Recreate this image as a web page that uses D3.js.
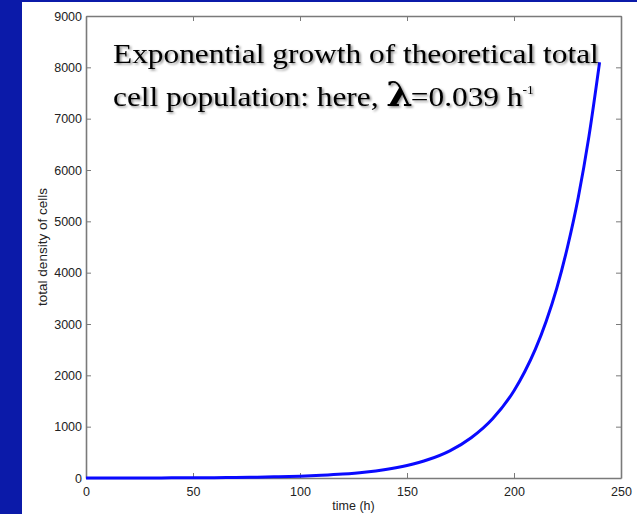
<!DOCTYPE html>
<html>
<head>
<meta charset="utf-8">
<script src="https://cdn.jsdelivr.net/npm/d3@7"></script>
<style>
  body { margin: 0; background: #0b1aa9; }
  svg { display: block; }
</style>
</head>
<body>
<div id="chart"></div>
<script>
// values
var times = [0, 10, 20, 30, 40, 50, 60, 70, 80, 90, 100, 110, 120, 130, 140, 150, 160, 170, 180, 190, 200, 205, 210, 215, 220, 225, 230, 235, 240];
var density = [1, 1, 2, 2, 3, 5, 7, 11, 16, 24, 35, 52, 76, 112, 166, 245, 360, 530, 785, 1155, 1700, 2070, 2510, 3050, 3700, 4500, 5460, 6650, 8100];
var xTicks = [0, 50, 100, 150, 200, 250];
var yTicks = [0, 1000, 2000, 3000, 4000, 5000, 6000, 7000, 8000, 9000];

var W = 637, H = 514;
var margin = {top: 16, right: 16, bottom: 36, left: 86};
var width = W - margin.left - margin.right,
    height = H - margin.top - margin.bottom;

var svg = d3.select("#chart")
  .append("svg")
  .attr("width", W)
  .attr("height", H);

// slide background and white panel
svg.append("rect").attr("width", W).attr("height", H).attr("fill", "#0b1aa9");
svg.append("rect").attr("x", 22).attr("y", 2).attr("width", W - 22).attr("height", H - 2).attr("fill", "#fff");

var defs = svg.append("defs");
var f = defs.append("filter").attr("id", "shadow").attr("x", "-5%").attr("y", "-20%").attr("width", "110%").attr("height", "140%");
f.append("feDropShadow").attr("dx", 1.5).attr("dy", 1.5).attr("stdDeviation", 1).attr("flood-color", "#000").attr("flood-opacity", 0.45);

var g = svg.append("g")
  .attr("transform", "translate(" + margin.left + "," + margin.top + ")");

var x = d3.scaleLinear().domain([0, 250]).range([0, width]);
var y = d3.scaleLinear().domain([0, 9000]).range([height, 0]);

var axisColor = "#7a7a7a";

// axes with inward ticks
var xAxis = g.append("g")
  .attr("transform", "translate(0," + height + ")")
  .call(d3.axisBottom(x).tickValues(xTicks).tickSizeInner(-5).tickSizeOuter(0).tickPadding(9).tickFormat(d3.format("d")));
var yAxis = g.append("g")
  .call(d3.axisLeft(y).tickValues(yTicks).tickSizeInner(-5).tickSizeOuter(0).tickPadding(4).tickFormat(d3.format("d")));
var xTop = g.append("g")
  .call(d3.axisTop(x).tickValues(xTicks).tickSizeInner(-5).tickSizeOuter(0).tickFormat(""));
var yRight = g.append("g")
  .attr("transform", "translate(" + width + ",0)")
  .call(d3.axisRight(y).tickValues(yTicks).tickSizeInner(-5).tickSizeOuter(0).tickFormat(""));

[xAxis, yAxis, xTop, yRight].forEach(function(a) {
  a.select(".domain").attr("stroke", axisColor).attr("stroke-width", 1.6);
  a.selectAll(".tick line").attr("stroke", axisColor).attr("stroke-width", 1);
  a.selectAll("text")
    .attr("font-family", "'Liberation Sans', Arial, sans-serif")
    .attr("font-size", 12.5)
    .attr("fill", "#222");
});

// curve
var line = d3.line()
  .x(function(d, i) { return x(times[i]); })
  .y(function(d) { return y(d); })
  .curve(d3.curveMonotoneX);

g.append("path")
  .datum(density)
  .attr("fill", "none")
  .attr("stroke", "#0a0aff")
  .attr("stroke-width", 3)
  .attr("d", line);

// axis titles
svg.append("text")
  .attr("x", margin.left + width / 2)
  .attr("y", 510)
  .attr("text-anchor", "middle")
  .attr("font-family", "'Liberation Sans', Arial, sans-serif")
  .attr("font-size", 12.5)
  .attr("fill", "#222")
  .text("time (h)");

svg.append("text")
  .attr("transform", "translate(47," + (margin.top + height / 2) + ") rotate(-90)")
  .attr("text-anchor", "middle")
  .attr("font-family", "'Liberation Sans', Arial, sans-serif")
  .attr("font-size", 13.5)
  .attr("fill", "#222")
  .text("total density of cells");

// annotation text, slightly stretched like the slide
var note = svg.append("g")
  .attr("transform", "translate(113,0) scale(1.12,1)")
  .attr("filter", "url(#shadow)")
  .attr("font-family", "'Liberation Serif', 'Times New Roman', serif")
  .attr("fill", "#000");

note.append("text")
  .attr("x", 0).attr("y", 63)
  .attr("font-size", 28)
  .text("Exponential growth of theoretical total");

var l2 = note.append("text")
  .attr("x", 0).attr("y", 106)
  .attr("font-size", 28);
l2.append("tspan").text("cell population: here, ");
l2.append("tspan").attr("font-size", 34).attr("font-weight", "bold").attr("font-family", "'DejaVu Serif', serif").text("λ");
l2.append("tspan").attr("dx", -2).text("=0.039 h");
l2.append("tspan").attr("font-size", 12).attr("dy", -12).text("-1");
</script>
</body>
</html>
